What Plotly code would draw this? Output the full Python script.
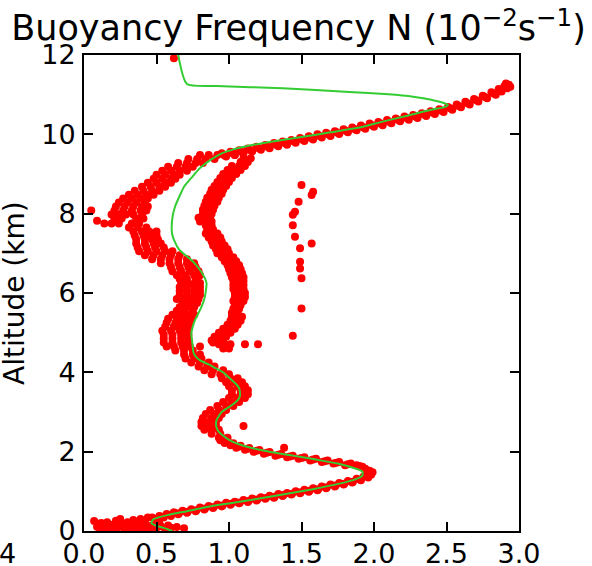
import plotly.graph_objects as go

# ---- radiosonde-derived buoyancy frequency samples (N in 1e-2 s^-1, altitude in km) ----

# near-surface scatter
floor_n = [0.07, 0.09, 0.12, 0.14, 0.16, 0.18, 0.20, 0.22, 0.24, 0.26, 0.28, 0.30, 0.32, 0.34,
           0.36, 0.37, 0.39, 0.40, 0.42, 0.44, 0.45, 0.47, 0.50, 0.53, 0.56, 0.60, 0.69, 0.14,
           0.22, 0.10, 0.40, 0.11, 0.17, 0.25, 0.29, 0.33, 0.38, 0.43, 0.48, 0.52, 0.58, 0.64]
floor_z = [0.25, 0.11, 0.20, 0.12, 0.22, 0.08, 0.16, 0.26, 0.10, 0.19, 0.05, 0.22, 0.13, 0.28,
           0.06, 0.18, 0.30, 0.10, 0.22, 0.34, 0.05, 0.14, 0.08, 0.12, 0.04, 0.08, 0.07, 0.03,
           0.04, 0.18, 0.02, 0.06, 0.15, 0.30, 0.12, 0.05, 0.25, 0.15, 0.04, 0.19, 0.14, 0.10]

# boundary-layer inversion peak (rise and fall)
peak_n = [0.47, 0.50, 0.52, 0.55, 0.57, 0.60, 0.62, 0.65, 0.68, 0.71, 0.74, 0.77, 0.80, 0.83,
          0.86, 0.89, 0.92, 0.95, 0.98, 1.01, 1.04, 1.07, 1.10, 1.13, 1.16, 1.19, 1.22, 1.25,
          1.28, 1.31, 1.34, 1.37, 1.40, 1.43, 1.46, 1.49, 1.52, 1.55, 1.58, 1.61, 1.64, 1.67,
          1.70, 1.73, 1.76, 1.79, 1.82, 1.85, 1.88, 1.91, 1.93, 1.96, 1.95, 1.98, 1.97, 1.94,
          1.99, 1.92, 1.88, 1.84, 1.80, 1.76, 1.72, 1.68, 1.64, 1.60, 1.56, 1.52, 1.48, 1.44,
          1.40, 1.36, 1.32, 1.28, 1.24, 1.21, 1.17, 1.14, 1.11, 1.08, 1.05, 1.03, 1.01, 0.99,
          0.97, 0.96, 0.94, 1.38]
peak_z = [0.34, 0.30, 0.38, 0.34, 0.43, 0.38, 0.47, 0.42, 0.51, 0.46, 0.55, 0.50, 0.59, 0.54,
          0.63, 0.58, 0.67, 0.62, 0.71, 0.66, 0.74, 0.70, 0.78, 0.73, 0.82, 0.77, 0.85, 0.81,
          0.89, 0.84, 0.93, 0.88, 0.96, 0.92, 1.00, 0.95, 1.04, 0.99, 1.08, 1.03, 1.12, 1.08,
          1.17, 1.12, 1.21, 1.17, 1.26, 1.22, 1.32, 1.28, 1.38, 1.35, 1.45, 1.42, 1.52, 1.57,
          1.48, 1.62, 1.66, 1.70, 1.66, 1.74, 1.70, 1.78, 1.74, 1.82, 1.78, 1.86, 1.82, 1.90,
          1.86, 1.94, 1.90, 1.99, 1.95, 2.04, 2.00, 2.09, 2.05, 2.15, 2.10, 2.21, 2.16, 2.27,
          2.22, 2.33, 2.29, 2.10]

# densest samples along the middle of the inversion peak
peak_mid_n = [0.535, 0.595, 0.655, 0.715, 0.775, 0.835, 0.895, 0.955, 1.015, 1.075, 1.135, 1.195,
              1.255, 1.315, 1.375, 1.435, 1.495, 1.555, 1.615, 1.675, 1.735, 1.795, 1.855, 1.905,
              1.94, 1.955, 1.90, 1.82, 1.74, 1.66, 1.58, 1.50, 1.42, 1.34, 1.26, 1.19, 1.125,
              1.065, 1.02, 0.98, 0.95]
peak_mid_z = [0.36, 0.405, 0.445, 0.485, 0.525, 0.565, 0.605, 0.645, 0.685, 0.72, 0.755, 0.795,
              0.83, 0.865, 0.905, 0.94, 0.975, 1.015, 1.055, 1.10, 1.145, 1.19, 1.24, 1.30,
              1.40, 1.50, 1.64, 1.68, 1.72, 1.76, 1.80, 1.84, 1.88, 1.92, 1.97, 2.02, 2.07,
              2.125, 2.185, 2.245, 2.31]

# lower/mid troposphere, sampled by altitude level: (altitude, N values at that level)
wiggle_rows = [
    (2.35, [0.93, 0.99]),
    (2.45, [0.88, 0.94]),
    (2.55, [0.83, 0.88, 0.93]),
    (2.65, [0.81, 0.86, 0.91, 1.10]),
    (2.75, [0.81, 0.86, 0.91]),
    (2.85, [0.82, 0.88, 0.93]),
    (2.95, [0.84, 0.90, 0.95]),
    (3.05, [0.87, 0.93, 0.98]),
    (3.15, [0.92, 0.98, 1.03]),
    (3.25, [0.96, 1.02, 1.07]),
    (3.35, [1.00, 1.06, 1.11]),
    (3.45, [1.02, 1.08, 1.13]),
    (3.55, [1.02, 1.08, 1.13]),
    (3.65, [1.00, 1.06, 1.11]),
    (3.75, [0.98, 1.04, 1.09]),
    (3.85, [0.95, 1.01, 1.06]),
    (3.95, [0.88, 0.94, 1.00]),
    (4.05, [0.83, 0.89, 0.96]),
    (4.15, [0.79, 0.85, 0.90]),
    (4.25, [0.74, 0.80, 0.86]),
    (4.35, [0.70, 0.76, 0.81]),
    (4.45, [0.69, 0.75, 0.80]),
]

# left (main) branch between 4.5 and 9.5 km
left_rows = [
    (4.55, [0.63, 0.69, 0.75]),
    (4.65, [0.57, 0.62, 0.68, 0.73, 0.80]),
    (4.75, [0.55, 0.61, 0.67, 0.72, 0.89]),
    (4.85, [0.55, 0.61, 0.67, 0.72]),
    (4.95, [0.55, 0.61, 0.67, 0.72]),
    (5.05, [0.54, 0.60, 0.66, 0.71]),
    (5.15, [0.56, 0.62, 0.67, 0.72]),
    (5.25, [0.57, 0.63, 0.68, 0.73]),
    (5.35, [0.58, 0.64, 0.69, 0.74]),
    (5.45, [0.61, 0.66, 0.71, 0.76]),
    (5.55, [0.64, 0.69, 0.75]),
    (5.65, [0.66, 0.71, 0.76]),
    (5.75, [0.68, 0.73, 0.78]),
    (5.85, [0.64, 0.69, 0.74, 0.79]),
    (5.95, [0.66, 0.71, 0.76, 0.80]),
    (6.05, [0.66, 0.71, 0.76, 0.80]),
    (6.15, [0.66, 0.71, 0.76, 0.80]),
    (6.25, [0.67, 0.72, 0.77, 0.80]),
    (6.35, [0.66, 0.71, 0.77]),
    (6.45, [0.64, 0.70, 0.76, 0.80]),
    (6.55, [0.61, 0.67, 0.73, 0.79]),
    (6.65, [0.60, 0.66, 0.72, 0.77]),
    (6.75, [0.53, 0.59, 0.65, 0.71, 0.76]),
    (6.85, [0.47, 0.53, 0.59, 0.65, 0.71]),
    (6.95, [0.42, 0.48, 0.54, 0.60, 0.66]),
    (7.05, [0.38, 0.44, 0.50, 0.56, 0.61]),
    (7.15, [0.37, 0.43, 0.49, 0.55]),
    (7.25, [0.36, 0.42, 0.48, 0.53]),
    (7.35, [0.36, 0.42, 0.47, 0.51]),
    (7.45, [0.35, 0.41, 0.46, 0.50]),
    (7.55, [0.34, 0.40, 0.45, 0.50]),
    (7.65, [0.31, 0.37, 0.43]),
    (7.75, [0.14, 0.19, 0.24, 0.33, 0.38]),
    (7.82, [0.09]),
    (7.88, [0.21, 0.26, 0.36, 0.41]),
    (7.98, [0.19, 0.24, 0.29, 0.34, 0.40]),
    (8.08, [0.05, 0.21, 0.27, 0.33, 0.39, 0.43]),
    (8.18, [0.22, 0.28, 0.34, 0.40, 0.44]),
    (8.28, [0.24, 0.30, 0.36, 0.42]),
    (8.38, [0.27, 0.33, 0.39, 0.44]),
    (8.48, [0.31, 0.37, 0.43, 0.48]),
    (8.58, [0.35, 0.41, 0.47, 0.52]),
    (8.68, [0.40, 0.46, 0.52, 0.56]),
    (8.78, [0.44, 0.50, 0.56, 0.60]),
    (8.88, [0.48, 0.54, 0.60, 0.63]),
    (8.98, [0.50, 0.56, 0.62, 0.66]),
    (9.08, [0.54, 0.60, 0.66, 0.71]),
    (9.18, [0.58, 0.64, 0.70, 0.75]),
    (9.28, [0.65, 0.71, 0.77, 0.82]),
    (9.38, [0.72, 0.78, 0.84, 0.90]),
    (9.48, [0.80, 0.86, 0.92, 0.98, 1.04]),
]

# right (secondary) branch between 4.5 and 9.4 km
right_rows = [
    (4.60, [0.96, 1.00]),
    (4.71, [0.93, 0.97, 1.01, 1.11, 1.20]),
    (4.80, [0.88, 0.92, 0.96]),
    (4.90, [0.90, 0.94, 0.98]),
    (5.00, [0.93, 0.97, 1.01]),
    (5.10, [0.96, 1.00, 1.04]),
    (5.20, [0.99, 1.03, 1.06]),
    (5.30, [1.01, 1.05, 1.08]),
    (5.40, [1.02, 1.06, 1.09]),
    (5.50, [1.02, 1.06]),
    (5.60, [1.03, 1.07]),
    (5.70, [1.04, 1.08]),
    (5.80, [1.03, 1.07, 1.10]),
    (5.90, [1.04, 1.08, 1.11]),
    (6.00, [1.04, 1.08, 1.11]),
    (6.10, [1.03, 1.07, 1.10]),
    (6.20, [1.03, 1.07, 1.10]),
    (6.30, [1.03, 1.07, 1.10]),
    (6.40, [1.02, 1.06, 1.10]),
    (6.50, [1.01, 1.05, 1.09]),
    (6.60, [1.00, 1.04, 1.08]),
    (6.70, [0.99, 1.03, 1.07]),
    (6.80, [0.97, 1.01, 1.05]),
    (6.90, [0.95, 0.99, 1.03]),
    (7.00, [0.92, 0.96, 1.00]),
    (7.10, [0.91, 0.95, 0.99]),
    (7.20, [0.89, 0.93, 0.97]),
    (7.30, [0.88, 0.92, 0.95]),
    (7.40, [0.86, 0.90, 0.94]),
    (7.50, [0.84, 0.88, 0.92]),
    (7.60, [0.85, 0.89]),
    (7.70, [0.84, 0.88]),
    (7.80, [0.80, 0.84, 0.88]),
    (7.90, [0.79, 0.83, 0.87]),
    (8.00, [0.82, 0.85, 0.88]),
    (8.10, [0.82, 0.86, 0.89]),
    (8.20, [0.83, 0.87, 0.90]),
    (8.30, [0.84, 0.88, 0.92]),
    (8.40, [0.85, 0.89, 0.93]),
    (8.50, [0.87, 0.91, 0.95]),
    (8.60, [0.88, 0.92, 0.96]),
    (8.70, [0.90, 0.94, 0.98]),
    (8.80, [0.92, 0.96, 1.00]),
    (8.90, [0.94, 0.98, 1.02]),
    (9.00, [0.96, 1.01, 1.05]),
    (9.10, [0.99, 1.04, 1.08]),
    (9.20, [1.02, 1.07, 1.11]),
    (9.30, [1.08, 1.13]),
    (9.40, [1.10, 1.15]),
]

# isolated column of high values
sparse_n = [1.50, 1.58, 1.57, 1.48, 1.455, 1.44, 1.44, 1.455, 1.57, 1.49, 1.49, 1.49, 1.50, 1.50, 1.44]
sparse_z = [8.72, 8.55, 8.47, 8.30, 8.05, 7.97, 7.71, 7.42, 7.25, 7.13, 6.79, 6.62, 6.37, 5.61, 4.92]

# tropopause layer up to the top of the profile
upper_n = [0.95, 0.98, 1.01, 1.04, 1.07, 1.10, 1.13, 1.16, 1.19, 1.22, 1.25, 1.28, 1.31, 1.34,
           1.37, 1.40, 1.43, 1.46, 1.49, 1.52, 1.55, 1.58, 1.61, 1.64, 1.67, 1.70, 1.73, 1.76,
           1.79, 1.82, 1.85, 1.88, 1.91, 1.94, 1.97, 2.00, 2.03, 2.06, 2.09, 2.12, 2.15, 2.18,
           2.21, 2.24, 2.27, 2.30, 2.33, 2.36, 2.39, 2.42, 2.45, 2.48, 2.51, 2.54, 2.57, 2.60,
           2.63, 2.66, 2.69, 2.72, 2.75, 2.78, 2.81, 2.84, 2.86, 2.88, 2.90, 2.92, 2.93, 2.94,
           2.91, 0.62]
upper_z = [9.52, 9.44, 9.56, 9.48, 9.60, 9.52, 9.64, 9.57, 9.69, 9.61, 9.73, 9.65, 9.78, 9.70,
           9.82, 9.74, 9.86, 9.79, 9.91, 9.83, 9.95, 9.87, 10.00, 9.92, 10.04, 9.96, 10.08, 10.01,
           10.13, 10.05, 10.17, 10.10, 10.22, 10.14, 10.27, 10.19, 10.31, 10.23, 10.36, 10.28,
           10.40, 10.33, 10.45, 10.37, 10.49, 10.41, 10.53, 10.46, 10.58, 10.51, 10.63, 10.56,
           10.69, 10.62, 10.75, 10.68, 10.82, 10.75, 10.89, 10.83, 10.97, 10.91, 11.06, 11.00,
           11.14, 11.08, 11.22, 11.16, 11.25, 11.20, 11.28, 11.92]

# densest samples along the middle of the tropopause layer
upper_mid_n = [0.965, 1.025, 1.085, 1.145, 1.205, 1.265, 1.325, 1.385, 1.445, 1.505, 1.565,
               1.625, 1.685, 1.745, 1.805, 1.865, 1.925, 1.985, 2.045, 2.105, 2.165, 2.225,
               2.285, 2.345, 2.405, 2.465, 2.525, 2.585, 2.645, 2.705, 2.765, 2.825, 2.87, 2.91]
upper_mid_z = [9.48, 9.52, 9.56, 9.605, 9.65, 9.69, 9.74, 9.78, 9.825, 9.87, 9.91,
               9.955, 10.00, 10.045, 10.09, 10.135, 10.18, 10.23, 10.27, 10.32, 10.365, 10.41,
               10.45, 10.50, 10.545, 10.595, 10.655, 10.715, 10.785, 10.86, 10.94, 11.03, 11.11, 11.19]

# smoothed profile
smooth_n = [0.61, 0.55, 0.49, 0.465, 0.47, 0.48, 0.575, 0.71, 0.84, 1.01, 1.18, 1.34, 1.50, 1.64,
            1.77, 1.87, 1.92, 1.92, 1.85, 1.75, 1.60, 1.44, 1.28, 1.15, 1.06, 1.00, 0.96, 0.93,
            0.915, 0.91, 0.915, 0.93, 0.95, 0.99, 1.03, 1.06, 1.075, 1.075, 1.07, 1.05, 1.02,
            0.99, 0.96, 0.91, 0.86, 0.80, 0.77, 0.755, 0.75, 0.745, 0.74, 0.75, 0.766, 0.79,
            0.81, 0.83, 0.84, 0.845, 0.83, 0.80, 0.75, 0.70, 0.655, 0.625, 0.607, 0.605, 0.612,
            0.63, 0.66, 0.69, 0.74, 0.80, 0.87, 0.95, 1.03, 1.12, 1.30, 1.50, 1.70, 1.90, 2.06,
            2.23, 2.41, 2.48, 2.51, 2.49, 2.43, 2.34, 2.27, 2.10, 1.83, 1.37, 0.915, 0.71, 0.65]
smooth_z = [0.00, 0.08, 0.14, 0.20, 0.26, 0.30, 0.40, 0.50, 0.60, 0.70, 0.80, 0.90, 1.00, 1.10,
            1.20, 1.30, 1.40, 1.50, 1.60, 1.70, 1.80, 1.90, 2.00, 2.10, 2.20, 2.30, 2.40, 2.50,
            2.60, 2.70, 2.80, 2.90, 3.00, 3.10, 3.20, 3.30, 3.40, 3.50, 3.60, 3.70, 3.80,
            3.90, 4.00, 4.10, 4.20, 4.30, 4.40, 4.50, 4.65, 4.80, 4.98, 5.15, 5.32, 5.50,
            5.65, 5.85, 6.05, 6.25, 6.40, 6.58, 6.80, 6.95, 7.10, 7.30, 7.50, 7.70, 7.95,
            8.20, 8.45, 8.68, 8.90, 9.15, 9.35, 9.52, 9.62, 9.70, 9.82, 9.93, 10.05, 10.17, 10.32,
            10.47, 10.63, 10.68, 10.74, 10.78, 10.84, 10.91, 10.95, 11.01, 11.07, 11.16, 11.22, 11.27, 12.00]

x_ticks = [0.0, 0.5, 1.0, 1.5, 2.0, 2.5, 3.0]
y_ticks = [0, 2, 4, 6, 8, 10, 12]

# ---- assemble scatter samples ----
obs_n = floor_n + peak_n + peak_mid_n + sparse_n + upper_n + upper_mid_n
obs_z = floor_z + peak_z + peak_mid_z + sparse_z + upper_z + upper_mid_z
for rows in (wiggle_rows, left_rows, right_rows):
    for z, ns in rows:
        obs_n.extend(ns)
        obs_z.extend([z] * len(ns))

FONT = "DejaVu Sans"
W, H = 592, 566
L, R, T, B = 84, 73, 55, 35
PW, PH = W - L - R, H - T - B

fig = go.Figure()
fig.add_trace(go.Scatter(
    x=obs_n, y=obs_z, mode="markers",
    marker=dict(color="#ff0000", size=8, line=dict(width=0)),
    showlegend=False, hoverinfo="skip",
))
fig.add_trace(go.Scatter(
    x=smooth_n, y=smooth_z, mode="lines",
    line=dict(color="#33cc33", width=2, shape="spline", smoothing=0.6),
    showlegend=False, hoverinfo="skip",
))

axis_common = dict(
    showline=True, linecolor="black", linewidth=2, mirror="ticks",
    ticks="inside", ticklen=9, tickwidth=1.5, tickcolor="black",
    showgrid=False, zeroline=False, automargin=False,
    tickfont=dict(family=FONT, size=27, color="black"),
)

fig.update_xaxes(range=[0, 3], tickvals=x_ticks, tickformat=".1f",
                 ticklabelstandoff=-2, **axis_common)
fig.update_yaxes(range=[0, 12], tickvals=y_ticks, ticklabelstandoff=1, **axis_common)

fig.update_layout(
    width=W, height=H,
    margin=dict(l=L, r=R, t=T, b=B, autoexpand=False),
    paper_bgcolor="white", plot_bgcolor="white",
    title=dict(
        text="Buoyancy Frequency N (10<sup>\u22122</sup>s<sup>\u22121</sup>)",
        font=dict(family=FONT, size=35, color="black"),
        xref="container", x=298.5 / W, xanchor="center",
        yref="container", y=1 - 28 / H, yanchor="middle",
    ),
    annotations=[
        dict(text="Altitude (km)", textangle=-90, xref="paper", yref="paper",
             x=(14 - L) / PW, y=0.5, xanchor="center", yanchor="middle",
             showarrow=False, font=dict(family=FONT, size=28, color="black")),
        dict(text="4", xref="paper", yref="paper",
             x=(7 - L) / PW, y=(H - B - 553) / PH, xanchor="center", yanchor="middle",
             showarrow=False, font=dict(family=FONT, size=27, color="black")),
    ],
)

fig.write_html("out.html")
